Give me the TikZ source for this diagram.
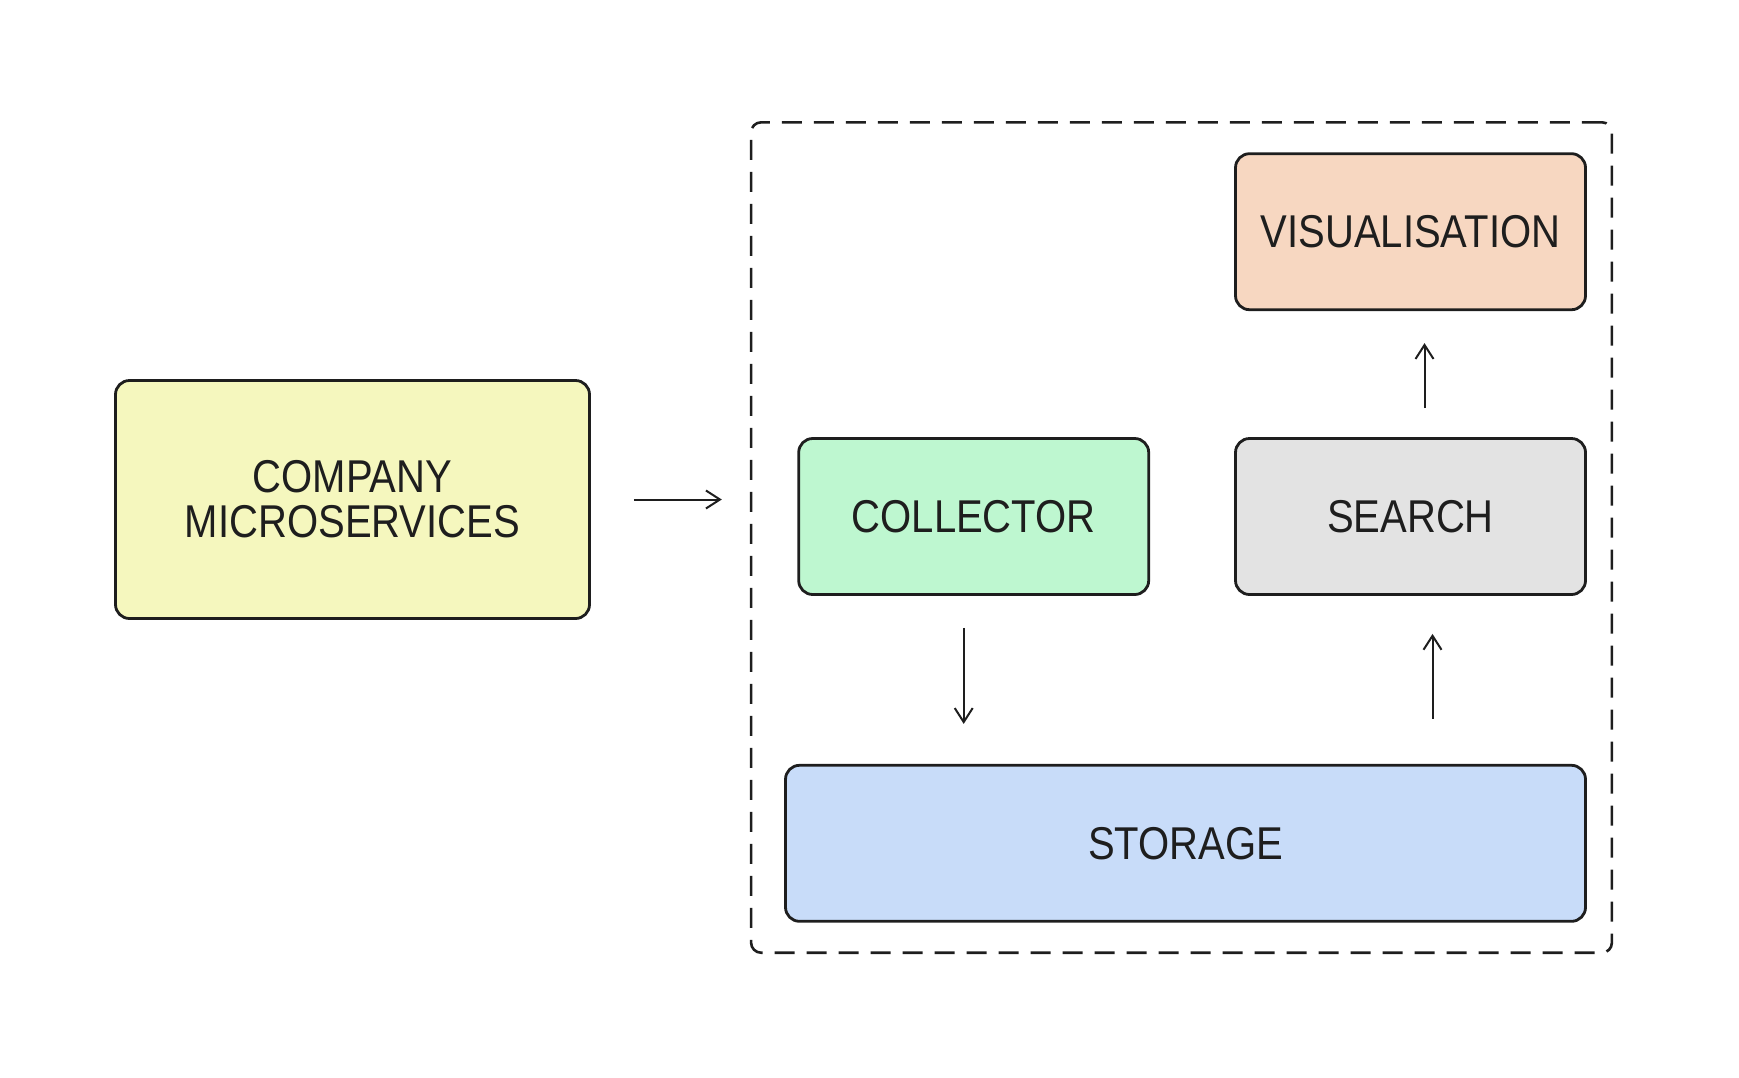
\documentclass[tikz,border=0pt]{standalone}
\usepackage{fontspec}
\usepackage{xcolor}
\usetikzlibrary{arrows.meta,positioning,fit}

\newfontfamily\sketchfont{Liberation Sans}[FakeStretch=0.87]

\definecolor{inkline}{HTML}{1E1E1E}
\definecolor{companyfill}{HTML}{F5F7BE}
\definecolor{collectorfill}{HTML}{BEF7D0}
\definecolor{searchfill}{HTML}{E3E3E3}
\definecolor{visualfill}{HTML}{F7D7C1}
\definecolor{storagefill}{HTML}{C8DCF9}

\begin{document}
\begin{tikzpicture}[
    x=0.5pt, y=-0.5pt,
    block/.style={rectangle, draw=inkline, line width=1.4pt, rounded corners=7pt,
        minimum width=175pt, minimum height=78pt, align=center, text=inkline,
        font=\sketchfont\fontsize{23pt}{22.5pt}\selectfont},
    frame/.style={draw=inkline, line width=1.3pt, dash pattern=on 10pt off 6pt, rounded corners=5pt},
    arrow/.style={-{Straight Barb[length=7pt,width=9pt]}, line width=1pt, draw=inkline}
]
\useasboundingbox (0,0) rectangle (1739,1077);

% Main blocks
\node[block, fill=companyfill, minimum width=237pt, minimum height=119pt] (company) at (352.5,499.5) {COMPANY\\MICROSERVICES};
\node[block, fill=searchfill] (search) at (1410.5,516.5) {SEARCH};
\node[block, fill=visualfill, above=63pt of search] (visual) {VISUALISATION};
\node[block, fill=collectorfill, left=42pt of search] (collector) {COLLECTOR};
\node[block, fill=storagefill, minimum width=400pt, below left=84pt and 0pt of search.south east] (storage) {STORAGE};

% Dashed group
\node[frame, fit=(visual)(collector)(storage), inner xsep=14.5pt, inner ysep=15pt, xshift=-2pt] (group) {};

% Connections
\draw[arrow, shorten <=21.5pt, shorten >=14pt] (company) -- (company -| group.west);
\draw[arrow, shorten <=16pt, shorten >=20pt] ([xshift=-5pt]collector.south) -- ([xshift=-5pt]collector.south |- storage.north);
\draw[arrow, shorten <=22.5pt, shorten >=19pt] ([xshift=11pt]search.south |- storage.north) -- ([xshift=11pt]search.south);
\draw[arrow, shorten <=14.5pt, shorten >=16pt] ([xshift=7pt]search.north) -- ([xshift=7pt]visual.south);

\end{tikzpicture}
\end{document}
